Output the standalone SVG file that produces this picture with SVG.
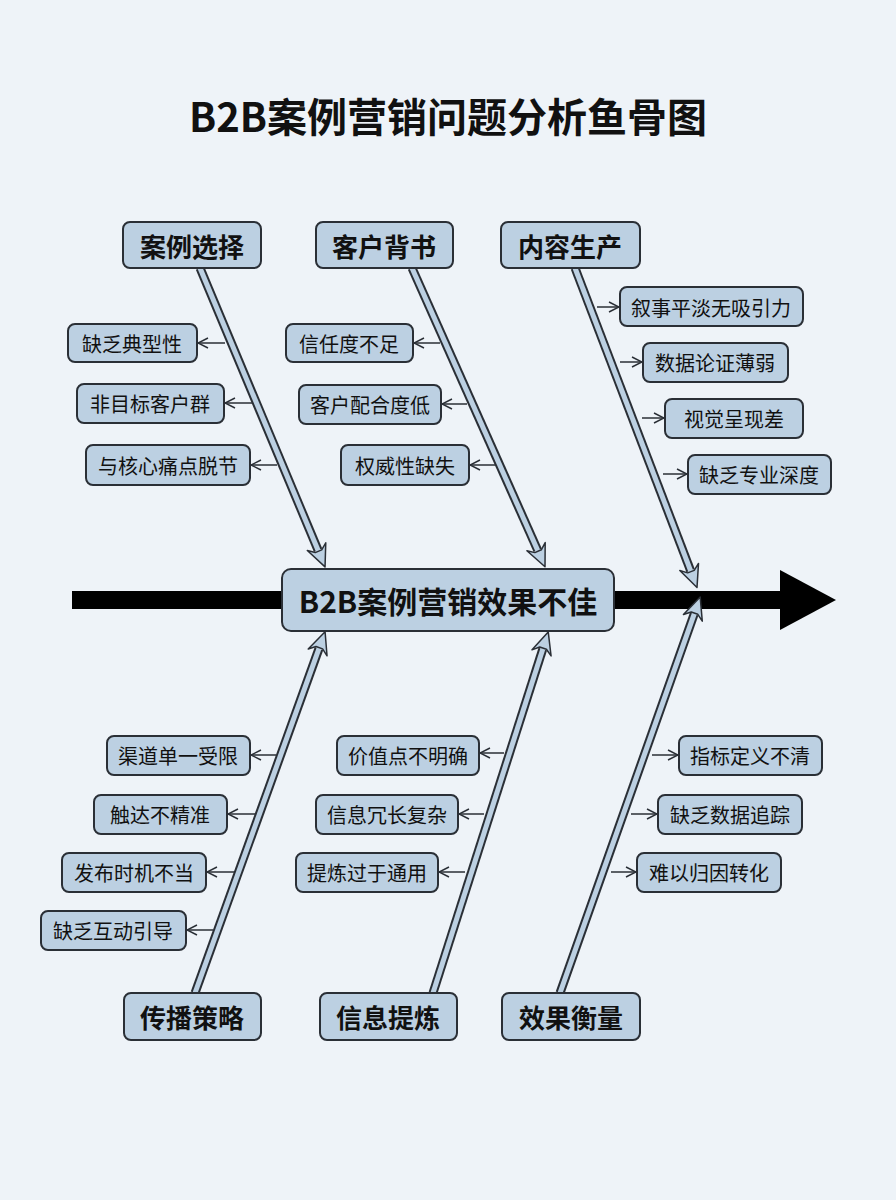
<svg xmlns="http://www.w3.org/2000/svg" width="896" height="1200" viewBox="0 0 896 1200">
<defs>
<style>
.b{fill:#bcd0e2;stroke:#2a2f36;stroke-width:2}
.t{font-family:"Noto Sans CJK SC","Noto Sans",sans-serif;fill:#111;text-anchor:middle;dominant-baseline:central}
.cat{font-size:26px;font-weight:bold}
.sub{font-size:20px}
.bo{stroke:#2a2f36;stroke-width:9;fill:none}
.bi{stroke:#bcd0e2;stroke-width:5;fill:none}
.ah{fill:#bcd0e2;stroke:#2a2f36;stroke-width:1.5;stroke-linejoin:round}
.sa{stroke:#2a2f36;stroke-width:1.5;fill:none}
</style>
<marker id="m" markerWidth="12" markerHeight="12" refX="11" refY="6" orient="auto" markerUnits="userSpaceOnUse"><path d="M1,1 L11,6 L1,11" fill="none" stroke="#2a2f36" stroke-width="1.5"/></marker>
<g id="head"><polygon class="ah" points="0,0 -22,-10 -17,-3.5 -17,3.5 -22,10"/></g>
</defs>
<rect width="896" height="1200" fill="#eef3f8"/>
<text class="t" x="448" y="115" style="font-size:40px;font-weight:bold">B2B案例营销问题分析鱼骨图</text>
<g id="connectors">
<line x1="72" y1="600" x2="785" y2="600" stroke="#000" stroke-width="18"/>
<polygon points="780,570 836,600 780,630" fill="#000"/>
<g transform="translate(200,268) rotate(67.3)"><line class="bo" x1="0" y1="0" x2="306" y2="0"/><line class="bi" x1="0" y1="0" x2="307" y2="0"/><use href="#head" x="324" y="0"/></g>
<g transform="translate(412,268) rotate(66.0)"><line class="bo" x1="0" y1="0" x2="309" y2="0"/><line class="bi" x1="0" y1="0" x2="310" y2="0"/><use href="#head" x="327" y="0"/></g>
<g transform="translate(575,268) rotate(69.1)"><line class="bo" x1="0" y1="0" x2="324" y2="0"/><line class="bi" x1="0" y1="0" x2="325" y2="0"/><use href="#head" x="342" y="0"/></g>
<g transform="translate(195,993) rotate(-70.2)"><line class="bo" x1="0" y1="0" x2="366" y2="0"/><line class="bi" x1="0" y1="0" x2="367" y2="0"/><use href="#head" x="384" y="0"/></g>
<g transform="translate(433,993) rotate(-72.3)"><line class="bo" x1="0" y1="0" x2="361" y2="0"/><line class="bi" x1="0" y1="0" x2="362" y2="0"/><use href="#head" x="379" y="0"/></g>
<g transform="translate(560,993) rotate(-70.5)"><line class="bo" x1="0" y1="0" x2="402" y2="0"/><line class="bi" x1="0" y1="0" x2="403" y2="0"/><use href="#head" x="420" y="0"/></g>
<g class="sa">
<path marker-end="url(#m)" d="M225,343H198"/><path marker-end="url(#m)" d="M252,403H225"/><path marker-end="url(#m)" d="M277,465H251"/>
<path marker-end="url(#m)" d="M440,343H414"/><path marker-end="url(#m)" d="M467,404H442"/><path marker-end="url(#m)" d="M495,465H470"/>
<path marker-end="url(#m)" d="M597,307H619"/><path marker-end="url(#m)" d="M620,362H642"/><path marker-end="url(#m)" d="M642,418H664"/><path marker-end="url(#m)" d="M663,474H687"/>
<path marker-end="url(#m)" d="M276,755H251"/><path marker-end="url(#m)" d="M255,814H228"/><path marker-end="url(#m)" d="M235,872H207"/><path marker-end="url(#m)" d="M213,930H187"/>
<path marker-end="url(#m)" d="M504,753H480"/><path marker-end="url(#m)" d="M484,814H459"/><path marker-end="url(#m)" d="M465,872H439"/>
<path marker-end="url(#m)" d="M652,755H678"/><path marker-end="url(#m)" d="M631,814H657"/><path marker-end="url(#m)" d="M611,872H636"/>
</g>
</g>
<g id="center"><rect class="b" x="282" y="569" width="332" height="62" rx="9"/><text class="t" x="448" y="600" style="font-size:30px;font-weight:bold">B2B案例营销效果不佳</text></g>
<g id="c1"><rect class="b" x="123" y="222" width="138" height="46" rx="7"/><text class="t cat" x="192" y="245">案例选择</text></g>
<g id="c2"><rect class="b" x="316" y="222" width="137" height="46" rx="7"/><text class="t cat" x="384" y="245">客户背书</text></g>
<g id="c3"><rect class="b" x="501" y="222" width="139" height="46" rx="7"/><text class="t cat" x="570" y="245">内容生产</text></g>
<g id="c4"><rect class="b" x="124" y="993" width="137" height="47" rx="7"/><text class="t cat" x="192" y="1016">传播策略</text></g>
<g id="c5"><rect class="b" x="320" y="993" width="137" height="47" rx="7"/><text class="t cat" x="388" y="1016">信息提炼</text></g>
<g id="c6"><rect class="b" x="502" y="993" width="138" height="47" rx="7"/><text class="t cat" x="571" y="1016">效果衡量</text></g>
<g id="s1"><rect class="b" x="68" y="324" width="129" height="38" rx="7"/><text class="t sub" x="132" y="343">缺乏典型性</text></g>
<g id="s2"><rect class="b" x="77" y="384" width="147" height="39" rx="7"/><text class="t sub" x="150" y="403">非目标客户群</text></g>
<g id="s3"><rect class="b" x="86" y="445" width="164" height="40" rx="7"/><text class="t sub" x="168" y="465">与核心痛点脱节</text></g>
<g id="s4"><rect class="b" x="286" y="324" width="127" height="38" rx="7"/><text class="t sub" x="349" y="343">信任度不足</text></g>
<g id="s5"><rect class="b" x="299" y="385" width="142" height="39" rx="7"/><text class="t sub" x="370" y="404">客户配合度低</text></g>
<g id="s6"><rect class="b" x="341" y="445" width="128" height="40" rx="7"/><text class="t sub" x="405" y="465">权威性缺失</text></g>
<g id="s7"><rect class="b" x="620" y="287" width="183" height="39" rx="7"/><text class="t sub" x="711" y="307">叙事平淡无吸引力</text></g>
<g id="s8"><rect class="b" x="643" y="343" width="145" height="39" rx="7"/><text class="t sub" x="715" y="362">数据论证薄弱</text></g>
<g id="s9"><rect class="b" x="665" y="399" width="138" height="39" rx="7"/><text class="t sub" x="734" y="418">视觉呈现差</text></g>
<g id="s10"><rect class="b" x="688" y="455" width="143" height="39" rx="7"/><text class="t sub" x="759" y="474">缺乏专业深度</text></g>
<g id="s11"><rect class="b" x="107" y="736" width="143" height="39" rx="7"/><text class="t sub" x="178" y="755">渠道单一受限</text></g>
<g id="s12"><rect class="b" x="94" y="795" width="133" height="39" rx="7"/><text class="t sub" x="160" y="814">触达不精准</text></g>
<g id="s13"><rect class="b" x="62" y="853" width="144" height="39" rx="7"/><text class="t sub" x="134" y="872">发布时机不当</text></g>
<g id="s14"><rect class="b" x="41" y="911" width="145" height="39" rx="7"/><text class="t sub" x="113" y="930">缺乏互动引导</text></g>
<g id="s15"><rect class="b" x="337" y="736" width="142" height="39" rx="7"/><text class="t sub" x="408" y="755">价值点不明确</text></g>
<g id="s16"><rect class="b" x="316" y="795" width="142" height="39" rx="7"/><text class="t sub" x="387" y="814">信息冗长复杂</text></g>
<g id="s17"><rect class="b" x="296" y="853" width="142" height="39" rx="7"/><text class="t sub" x="367" y="872">提炼过于通用</text></g>
<g id="s18"><rect class="b" x="679" y="736" width="143" height="39" rx="7"/><text class="t sub" x="750" y="755">指标定义不清</text></g>
<g id="s19"><rect class="b" x="658" y="795" width="144" height="39" rx="7"/><text class="t sub" x="730" y="814">缺乏数据追踪</text></g>
<g id="s20"><rect class="b" x="637" y="853" width="144" height="39" rx="7"/><text class="t sub" x="709" y="872">难以归因转化</text></g>
</svg>
